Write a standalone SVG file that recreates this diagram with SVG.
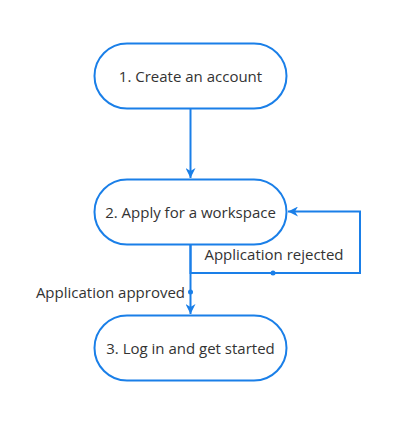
<svg xmlns="http://www.w3.org/2000/svg" width="402" height="430" viewBox="0 0 402 430">
<defs>
<style>
.node rect{fill:#fff;stroke:#1a7fe8;stroke-width:2}
.node text{font-family:"Open Sans","Noto Sans",sans-serif;font-size:15px;fill:#333;text-anchor:middle;dominant-baseline:central}
.edge{fill:none;stroke:#1a7fe8;stroke-width:2}
.lbl{font-family:"Open Sans","Noto Sans",sans-serif;font-size:15px;fill:#333}
.dot{fill:#1a7fe8}
</style>
<marker id="arr" viewBox="0 0 10 10" refX="10" refY="5" markerWidth="10" markerHeight="10" markerUnits="userSpaceOnUse" orient="auto">
<path d="M0,0 L10,5 L0,10 L3,5 Z" fill="#1a7fe8"/>
</marker>
</defs>
<rect width="402" height="430" fill="#fff"/>
<g id="connectors">
<path class="edge" d="M190.5,108 L190.5,178" marker-end="url(#arr)"/>
<path class="edge" d="M190.5,244 L190.5,314" marker-end="url(#arr)"/>
<circle class="dot" cx="190.5" cy="292" r="2.5"/>
<text class="lbl" x="185" y="298" text-anchor="end">Application approved</text>
<path class="edge" d="M190.5,244 L190.5,273 L360,273 L360,211.5 L288,211.5" marker-end="url(#arr)"/>
<circle class="dot" cx="273" cy="273" r="2.5"/>
<text class="lbl" x="274" y="260" text-anchor="middle">Application rejected</text>
</g>
<g id="node1" class="node">
<rect x="94.5" y="43.5" width="192" height="65" rx="32.5"/>
<text x="190.5" y="76">1. Create an account</text>
</g>
<g id="node2" class="node">
<rect x="94.5" y="179.5" width="192" height="65" rx="32.5"/>
<text x="190.5" y="212">2. Apply for a workspace</text>
</g>
<g id="node3" class="node">
<rect x="94.5" y="315.5" width="192" height="65" rx="32.5"/>
<text x="190.5" y="348">3. Log in and get started</text>
</g>
</svg>
